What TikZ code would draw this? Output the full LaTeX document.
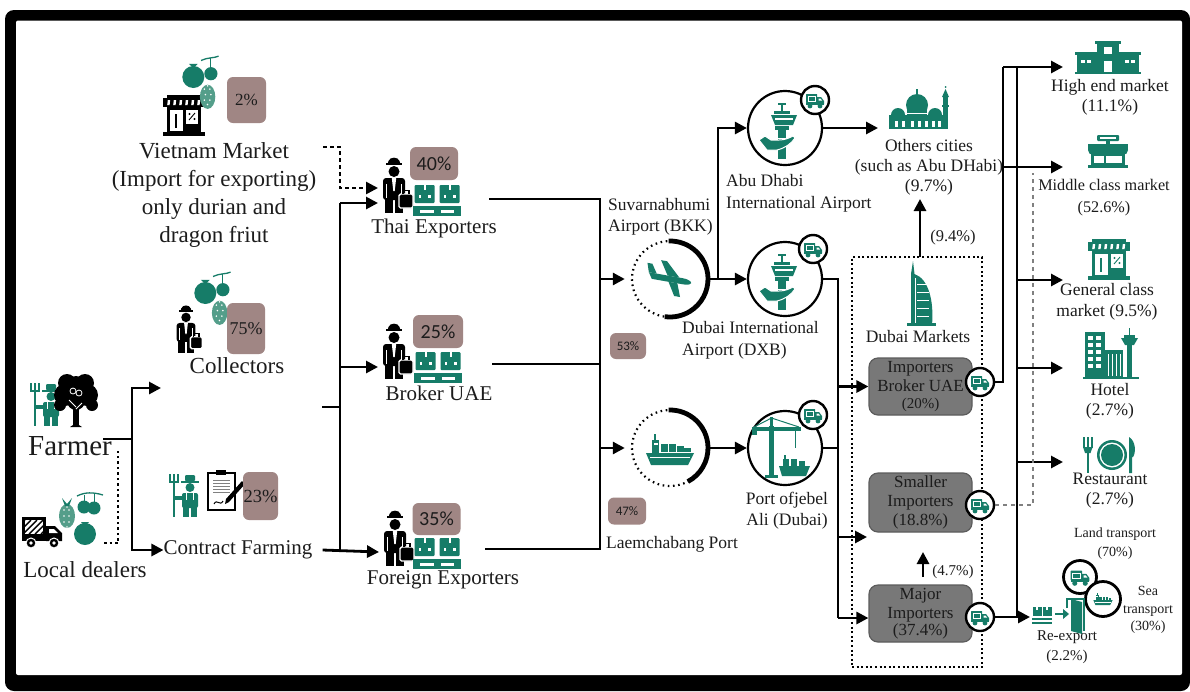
\documentclass[tikz,border=0pt]{standalone}
\usepackage{fontspec}
\setmainfont{Liberation Serif}
\newfontfamily\pctsans{Carlito}
\usetikzlibrary{arrows.meta}

\definecolor{tealic}{RGB}{22,124,104}
\definecolor{tealsoft}{RGB}{84,158,138}
\definecolor{mauve}{RGB}{160,134,132}
\definecolor{boxgrey}{RGB}{120,120,120}
\definecolor{boxedge}{RGB}{92,92,92}
\definecolor{ink}{RGB}{28,28,28}

\newcommand{\setfs}[2]{\fontsize{#1}{#2}\selectfont}

\tikzset{
  link/.style={line width=2.8pt},
  flow/.style={line width=2.8pt,-{Triangle[length=12pt,width=12pt]}},
  dashflow/.style={line width=2.6pt,dash pattern=on 4pt off 3pt,-{Triangle[length=12pt,width=12pt]}},
  dotlink/.style={line width=2.4pt,dash pattern=on 2.5pt off 3pt},
  greydash/.style={line width=1.8pt,gray,dash pattern=on 4pt off 4pt},
  pctbox/.style={fill=mauve,rounded corners=6pt,inner sep=0pt,text=ink},
  impbox/.style={fill=boxgrey,draw=boxedge,line width=1.2pt,rounded corners=9pt,minimum width=103pt,minimum height=57pt,inner sep=0pt,align=center,text=ink,font=\setfs{17}{19}},
  lbl/.style={inner sep=0pt,align=center,text=ink},
  badge/.style={circle,draw=black,line width=2.4pt,fill=white,minimum size=28pt,inner sep=0pt},
  hub/.style={circle,draw=black,line width=2.2pt,fill=white,minimum size=74pt,inner sep=0pt},
  ring/.style={circle,minimum size=78pt,inner sep=0pt},
}

% ---------- icons ----------
\tikzset{
 bizman/.pic={
  \fill (-6.5,-20.5) -- (6.5,-20.5) -- (5.5,-24) .. controls (4,-28.5) and (-4,-28.5) .. (-5.5,-24) -- cycle;
  \fill (-8,-21.8) rectangle (8,-19.8);
  \fill (0,-13.5) circle[radius=5.5pt];
  \fill[rounded corners=3pt] (-11,-7) rectangle (11,15);
  \fill (-9,13) rectangle (-1.2,28);
  \fill (1.2,13) rectangle (9,28);
  \fill[white] (-2.2,-7) -- (2.2,-7) -- (0.7,6) -- (-0.7,6) -- cycle;
  \fill[white] (-7.6,-1) rectangle (-6.7,13);
  \fill[white] (6.7,-1) rectangle (7.6,13);
  \filldraw[draw=white,line width=1.4pt,rounded corners=1.5pt] (5,9) rectangle (19,23);
  \draw[line width=1.3pt] (9,9) -- (9,5.5) -- (15,5.5) -- (15,9);
 },
 crates/.pic={
  \foreach \cx in {-12.5,12.5}{
   \fill[rounded corners=1pt] (\cx-10,-15) rectangle (\cx+10,3);
   \fill[white] (\cx-1,-15) rectangle (\cx+1,-10);
   \fill[white] (\cx-6,-5) rectangle (\cx-3.5,-2.5);
   \fill[white] (\cx+3.5,-5) rectangle (\cx+6,-2.5);
  }
  \fill (-24,6) rectangle (24,9.5);
  \fill (-24,12.5) rectangle (24,15.5);
  \foreach \lx in {-24,-3.5,17} \fill (\lx,9.5) rectangle (\lx+7,12.5);
 },
 fruits/.pic={
  \draw[line width=1.3pt] (0,-25) .. controls (6,-28) and (12,-27) .. (16,-29);
  \draw[line width=1pt] (9,-27) -- (9,-18);
  \fill (-7,-10) circle[radius=10pt];
  \fill (-11,-22) -- (-3,-22) -- (-7,-18) -- cycle;
  \fill (9,-13) circle[radius=6pt];
  \fill[tealsoft] (6,8) ellipse[x radius=7pt,y radius=11pt];
  \foreach \dx/\dy in {3/1,8/1,4/6,9/6,3/11,8/11,6/15,6/-2}
    \fill[white] (\dx,\dy) circle[radius=0.8pt];
 },
 fruitsb/.pic={
  \fill[tealsoft] (-14,-4) ellipse[x radius=8pt,y radius=12pt];
  \foreach \dx/\dy in {-17/-10,-12/-10,-17/-4,-12/-4,-17/2,-12/2,-14/7,-14/-13}
    \fill[white] (\dx,\dy) circle[radius=0.8pt];
  \fill (-19,-22) -- (-14,-16) -- (-9,-22) -- (-12,-14) -- (-16,-14) -- cycle;
  \draw[line width=1.3pt] (-4,-24) .. controls (4,-28) and (12,-28) .. (22,-25);
  \draw[line width=1pt] (3,-25) -- (3,-19);
  \draw[line width=1pt] (13,-26) -- (13,-18);
  \fill (3,-13) circle[radius=6.5pt];
  \fill (13,-12) circle[radius=6.5pt];
  \fill (4,14) circle[radius=11pt];
  \fill (0,2) -- (8,2) -- (4,6) -- cycle;
 },
 shop/.pic={
  \fill (-17,-21) rectangle (17,-18);
  \fill (-21,-18) rectangle (21,-9);
  \foreach \sx in {-15,-9,-3,3,9,15}
    \fill[white] (\sx-1.2,-16) -- (\sx+1.2,-16) -- (\sx+0.6,-11) -- (\sx-1.8,-11) -- cycle;
  \fill (-17,-9) rectangle (17,17);
  \fill[white] (-14,-6) rectangle (-1.5,15);
  \fill[white] (1.5,-6) rectangle (14,8);
  \fill (-9,-2) rectangle (-7,12);
  \draw[line width=0.9pt] (5,4) -- (11,-3);
  \fill (5.5,-2) circle[radius=1.2pt];
  \fill (10.5,3) circle[radius=1.2pt];
  \fill (-21,16) rectangle (21,20);
 },
 midshop/.pic={
  \fill[rounded corners=1pt] (-11,-16) rectangle (11,-10);
  \fill[white] (-8,-14) rectangle (8,-12);
  \fill (-2,-10) rectangle (2,-7);
  \fill (-20,-7) rectangle (20,-1);
  \foreach \sx in {-15,-5,5,15} \fill (\sx,-1) circle[radius=5pt];
  \fill (-17,-1) rectangle (17,14);
  \fill[white] (-14,5) rectangle (-4,12);
  \fill[white] (-2,5) rectangle (14,12);
  \fill (-20,14) rectangle (20,17);
 },
 highend/.pic={
  \fill (-11,-15) rectangle (11,14);
  \fill (-13,-17) rectangle (13,-14);
  \fill (-31,-4) rectangle (-11,14);
  \fill (11,-4) rectangle (31,14);
  \fill (-33,-6) rectangle (-11,-3);
  \fill (11,-6) rectangle (33,-3);
  \fill[white] (-4,-11) rectangle (4,-4);
  \fill[white] (-4,3) rectangle (4,14);
  \foreach \wx in {-27,-21,17,23} \fill[white] (\wx,2) rectangle (\wx+4,5);
  \fill (-33,14) rectangle (33,16);
 },
 hotel/.pic={
  \fill (-26,-22) rectangle (-6,24);
  \foreach \wx in {-23,-15} \foreach \wy in {-18,-11,-4,3,10} \fill[white] (\wx,\wy) rectangle (\wx+5,\wy+4);
  \fill (-6,-4) rectangle (12,24);
  \foreach \vx in {-3,1,5,9} \fill[white] (\vx,0) rectangle (\vx+1.3,22);
  \fill (16,-12) rectangle (21,24);
  \fill (10,-16) -- (27,-16) -- (23,-9) -- (14,-9) -- cycle;
  \fill (13,-19) rectangle (24,-16);
  \fill (18,-26) rectangle (19,-19);
  \fill (-28,23) rectangle (28,25);
 },
 restaurant/.pic={
  \foreach \fx in {-27,-23,-19} \fill (\fx,-18) rectangle (\fx+1.6,-7);
  \fill (-27,-8) -- (-17.4,-8) -- (-19.5,-2) -- (-25,-2) -- cycle;
  \fill (-23.5,-3) rectangle (-20.9,18);
  \fill (2,0) circle[radius=15pt];
  \fill[white] (2,0) circle[radius=12.5pt];
  \fill (2,0) circle[radius=11pt];
  \fill (19,-18) .. controls (26,-14) and (26,-2) .. (23,2) -- (22,2) -- (22,18) -- (19,18) -- cycle;
 },
 reexport/.pic={
  \foreach \cx in {-25,-15}{
   \fill (\cx-4.5,-8) rectangle (\cx+4.5,1);
   \fill[white] (\cx-0.6,-8) rectangle (\cx+0.6,-5);
  }
  \fill (-30,3) rectangle (-10,5);
  \fill (-30,7) rectangle (-10,9);
  \draw[line width=2pt] (-7,-1) -- (3,-1);
  \fill (1,-6) -- (7,-1) -- (1,4) -- cycle;
  \draw[line width=2pt] (5,-7) -- (5,-16) -- (22,-16) -- (22,16);
  \fill (9,-16) -- (20,-13) -- (20,19) -- (9,16) -- cycle;
 },
 farmer/.pic={
  \draw[line width=1.5pt] (-12,-12) -- (-12,22);
  \draw[line width=1.2pt] (-16,-21) -- (-16,-13) -- (-8,-13) -- (-8,-21);
  \draw[line width=1.2pt] (-12,-21) -- (-12,-13);
  \fill (-5,-14.5) rectangle (13,-12.5);
  \fill[rounded corners=1pt] (-1,-20) rectangle (9,-14);
  \fill (4,-7.5) circle[radius=4.5pt];
  \fill[rounded corners=2pt] (-4,-2) rectangle (12,13);
  \fill (-3,12) rectangle (3,22);
  \fill (5,12) rectangle (11,22);
  \fill (-12,1) rectangle (-3,4.5);
  \fill[white] (0,-2) rectangle (1,5);
  \fill[white] (7,-2) rectangle (8,5);
 },
 tree/.pic={
  \fill (-3,4) rectangle (3,26);
  \fill (-3,26) -- (3,26) -- (6,28) -- (-6,28) -- cycle;
  \foreach \cx/\cy/\rr in {0/-10/13,-11/-4/11,11/-4/11,-9/-16/9,9/-16/9,0/2/9,-16/6/6,16/6/6}
    \fill (\cx,\cy) circle[radius=\rr pt];
  \draw[white,line width=1pt] (0,8) -- (-7,1);
  \draw[white,line width=1pt] (0,10) -- (6,4);
  \draw[white,line width=0.8pt] (-3,-8) circle[radius=3pt];
  \draw[white,line width=0.8pt] (3,-6) circle[radius=3pt];
 },
 truck/.pic={
  \fill (-21,-15) rectangle (3,5);
  \fill[white] (-18,-12) rectangle (0,2);
  \begin{scope}
   \clip (-18,-12) rectangle (0,2);
   \foreach \k in {-32,-26,...,0} \draw[line width=1.4pt] (\k,2) -- (\k+14,-12);
  \end{scope}
  \fill (3,-6) -- (12,-6) -- (19,1) -- (19,9) -- (3,9) -- cycle;
  \fill[white] (6,-3) -- (11,-3) -- (15,1) -- (6,1) -- cycle;
  \fill (-21,5) rectangle (19,9);
  \filldraw[draw=white,line width=1pt] (-12,11) circle[radius=5pt];
  \filldraw[draw=white,line width=1pt] (11,11) circle[radius=5pt];
  \fill[white] (-12,11) circle[radius=1.8pt];
  \fill[white] (11,11) circle[radius=1.8pt];
 },
 clipboard/.pic={
  \draw[line width=2pt,fill=white] (-15,-18) rectangle (12,19);
  \fill (-7,-21) rectangle (3,-16);
  \foreach \ly in {-11,-8,-5,-2,1} \draw[line width=1pt,gray] (-10,\ly) -- (7,\ly);
  \draw[line width=1pt] (-9,13) .. controls (-6,7) and (-3,16) .. (0,10);
  \fill (19,-10) -- (22,-7) -- (6,11) -- (2,13) -- (3,8) -- cycle;
 },
 plane/.pic={
  \fill (-22,-3) -- (12,-3) .. controls (20,-3) and (24,0) .. (20,2) .. controls (18,3) and (15,3) .. (12,3) -- (-18,3) -- cycle;
  \fill (-3,-3) -- (-12,-17) -- (-6,-17) -- (9,-3) -- cycle;
  \fill (-1,3) -- (7,16) -- (13,16) -- (8,3) -- cycle;
  \fill (-22,-3) -- (-25,-12) -- (-20,-12) -- (-14,-3) -- cycle;
 },
 ship/.pic={
  \fill (-24,3) -- (24,3) -- (18,15) -- (-19,15) -- cycle;
  \fill (-18,-10) rectangle (-11,3);
  \fill (-16,-16) rectangle (-14.5,-10);
  \fill[white] (-16.5,-7) rectangle (-12.5,-5);
  \foreach \bx/\bh in {-9/9,-1/9,7/7,14/5} \fill (\bx,3-\bh) rectangle (\bx+6.5,2);
  \fill[white] (-20,7) rectangle (20,8);
 },
 tower/.pic={
  \fill (-7.8,-24) rectangle (-6.2,-17);
  \fill (-11,-25) rectangle (-3,-23.5);
  \fill (-15,-17) rectangle (1,-14);
  \fill (-18,-13) -- (8,-13) -- (4,-3) -- (-14,-3) -- cycle;
  \fill[white] (-14,-10) rectangle (4,-8);
  \fill (-14,-2) rectangle (0,2);
  \fill (-11,2) rectangle (-3,31);
  \fill[white] (-11,10) rectangle (-3,11);
  \fill[white] (-11,18) rectangle (-3,19);
  \filldraw[draw=white,line width=1pt] (-30,12) -- (-24,8) -- (-18,12) -- (-10,12) .. controls (-4,12) and (0,10) .. (4,8) -- (6,10) .. controls (2,16) and (-4,20) .. (-12,22) -- (-22,22) -- cycle;
 },
 crane/.pic={
  \fill (-16,-22) rectangle (-11,28);
  \fill (-33,-21) rectangle (16,-17.5);
  \draw[line width=1pt] (-13.5,-30) -- (-31,-21);
  \draw[line width=1pt] (-13.5,-30) -- (14,-21);
  \fill (-15,-31) rectangle (-12,-21);
  \fill (-33,-21) rectangle (-28,-13);
  \draw[line width=1pt] (10,-17.5) -- (10,0);
  \fill (-20,27) rectangle (-7,30);
  \fill (-6,18) -- (25,18) -- (21,28) -- (-3,28) -- cycle;
  \fill (-2,11) rectangle (4,18);
  \fill (-1,7) rectangle (1,11);
  \fill (6,11) rectangle (12,18);
  \fill (14,13) rectangle (20,18);
 },
 minitruck/.pic={
  \fill[rounded corners=0.5pt] (-9,-6) rectangle (2,3);
  \draw[white,line width=0.6pt] (-7,-4) rectangle (0,1);
  \fill (2,-3) -- (6,-3) -- (9,1) -- (9,4) -- (2,4) -- cycle;
  \fill[white] (3.5,-1.5) -- (5.5,-1.5) -- (7,0.5) -- (3.5,0.5) -- cycle;
  \fill (-9,3) rectangle (9,5);
  \fill (-5,6) circle[radius=2.4pt];
  \fill (5,6) circle[radius=2.4pt];
 },
 burj/.pic={
  \fill (-9,31) -- (-9,-20) -- (-7,-33) -- (-5.5,-20) .. controls (9,-15) and (14,8) .. (12,31) -- cycle;
  \foreach \yy in {-10,-2,6,14,22} \fill[white] (-3,\yy) rectangle (9,\yy+1.3);
  \fill[white] (-5,-16) rectangle (-4,31);
  \fill (-13,29) rectangle (16,32);
 },
 mosque/.pic={
  \fill (-30,4) rectangle (26,18);
  \fill (-12,-6) rectangle (8,6);
  \fill (-2,-6) circle[radius=11pt];
  \fill (-2.6,-22) rectangle (-1.4,-16);
  \fill (-21,4) circle[radius=7pt];
  \fill (16,4) circle[radius=7pt];
  \fill (24,-14) rectangle (29,18);
  \fill (23,-6) rectangle (30,-4);
  \fill (23,-14) -- (30,-14) -- (26.5,-22) -- cycle;
  \fill (26.5,-24) circle[radius=1pt];
  \foreach \ax in {-24,-17,-8,-1,6,13,19} \fill[white] (\ax,10) rectangle (\ax+3,16);
  \draw[white,line width=0.8pt] (-12,2) -- (8,2);
 },
}

\begin{document}
\begin{tikzpicture}[x=1pt,y=-1pt]
\useasboundingbox (0,0) rectangle (1190,691);
\fill[white] (0,0) rectangle (1190,691);
% outer frame
\fill[black,rounded corners=9pt] (5,10) rectangle (1190,691);
\fill[white,rounded corners=2pt] (16,20.5) rectangle (1182,675);

% ---------- growers ----------
\pic[color=tealic] at (47,404) {farmer};
\pic[color=black] at (76,399) {tree};
\node[lbl,font=\setfs{29}{32}] (farmerT) at (70,446) {Farmer};

\pic[color=black] at (43,532) {truck};
\pic[color=tealic] at (81,520) {fruitsb};
\node[lbl,font=\setfs{23}{26}] (localT) at (85,570) {Local dealers};

% ---------- first buyers ----------
\pic[color=black] at (184,116) {shop};
\pic[color=tealic,scale=1.1] at (201,88) {fruits};
\node[pctbox,minimum width=39pt,minimum height=46pt,font=\setfs{17}{20}] (p2) at (246.5,100) {2\%};
\node[lbl,font=\setfs{23}{28}] (vietT) at (214,195) {Vietnam Market\\(Import for exporting)\\only durian and\\dragon friut};

\pic[color=black,scale=0.86] at (186,329) {bizman};
\pic[color=tealic,scale=1.1] at (213,304) {fruits};
\node[pctbox,minimum width=38pt,minimum height=51pt,font=\setfs{18}{20}] (p75) at (246,328.5) {75\%};
\node[lbl,font=\setfs{23}{26}] (collT) at (237,366) {Collectors};

\pic[color=tealic] at (186,495) {farmer};
\pic[color=black] at (223,491) {clipboard};
\node[pctbox,minimum width=35pt,minimum height=48pt,font=\setfs{18.5}{20}] (p23) at (260.5,496) {23\%};
\node[lbl,font=\setfs{21}{24}] (contractT) at (238,550) {Contract Farming};

% ---------- exporters ----------
\pic[color=black] at (394,185) {bizman};
\pic[color=tealic] at (437,200) {crates};
\node[pctbox,minimum width=48pt,minimum height=33pt,font=\pctsans\setfs{20}{22}] (p40) at (434,163.5) {40\%};
\node[lbl,font=\setfs{21}{24}] (thaiT) at (434,228) {Thai Exporters};

\pic[color=black] at (394,351) {bizman};
\pic[color=tealic] at (438,367) {crates};
\node[pctbox,minimum width=50pt,minimum height=33pt,font=\pctsans\setfs{20}{22}] (p25) at (438,331.5) {25\%};
\node[lbl,font=\setfs{21}{24}] (brokerT) at (439,393) {Broker UAE};

\pic[color=black] at (395,538) {bizman};
\pic[color=tealic] at (437,553) {crates};
\node[pctbox,minimum width=48pt,minimum height=32pt,font=\pctsans\setfs{20}{22}] (p35) at (436.5,519) {35\%};
\node[lbl,font=\setfs{21}{24}] (foreignT) at (443,580) {Foreign Exporters};

% ---------- Thai gateways ----------
\node[ring] (bkk) at (670,279) {};
\draw[line width=2.2pt,dash pattern=on 1.6pt off 3.6pt] (bkk) circle[radius=38pt];
\draw[line width=4.8pt] (bkk.center) ++(92:38pt) arc[start angle=92,end angle=-98,radius=38pt];
\pic[color=tealic,rotate=-10] at (670,279) {plane};
\node[lbl,align=left,anchor=west,font=\setfs{17.5}{21}] (bkkT) at (608,217) {Suvarnabhumi\\Airport (BKK)};
\node[pctbox,minimum width=36pt,minimum height=26pt,font=\pctsans\setfs{13}{15}] (p53) at (628,346) {53\%};

\node[ring] (laem) at (670,448) {};
\draw[line width=2.2pt,dash pattern=on 1.6pt off 3.6pt] (laem) circle[radius=38pt];
\draw[line width=4.8pt] (laem.center) ++(92:38pt) arc[start angle=92,end angle=-62,radius=38pt];
\pic[color=tealic] at (670,450) {ship};
\node[pctbox,minimum width=38pt,minimum height=27pt,font=\pctsans\setfs{13}{15}] (p47) at (627,511) {47\%};
\node[lbl,anchor=west,font=\setfs{17.5}{21}] (laemT) at (606,544) {Laemchabang Port};

% ---------- UAE gateways ----------
\node[hub] (abu) at (785,128) {};
\pic[color=tealic] at (789,128) {tower};
\node[badge] (abuB) at (815,100) {};
\pic[color=tealic] at (abuB) {minitruck};
\node[lbl,align=left,anchor=west,font=\setfs{17.5}{22}] (abuT) at (726,193) {Abu Dhabi\\International Airport};

\node[hub] (dxb) at (785,279) {};
\pic[color=tealic] at (789,279) {tower};
\node[badge] (dxbB) at (813,249) {};
\pic[color=tealic] at (dxbB) {minitruck};
\node[lbl,align=left,anchor=west,font=\setfs{17.5}{22}] (dxbT) at (682,340) {Dubai International\\Airport (DXB)};

\node[hub] (port) at (785,448) {};
\pic[color=tealic] at (785,448) {crane};
\node[badge] (portB) at (813,415) {};
\pic[color=tealic] at (portB) {minitruck};
\node[lbl,font=\setfs{17.5}{21}] (portT) at (787,511) {Port ofjebel\\Ali (Dubai)};

% ---------- other cities ----------
\pic[color=tealic] at (919,111) {mosque};
\node[lbl,font=\setfs{17.5}{20}] (othersT) at (929,167) {Others cities\\(such as Abu DHabi)\\(9.7\%)};

% ---------- Dubai markets ----------
\node[draw,line width=2pt,dash pattern=on 2pt off 2.6pt,minimum width=130pt,minimum height=410pt,inner sep=0pt] (dubaibox) at (917,462) {};
\pic[color=tealic] at (920,294) {burj};
\node[lbl,font=\setfs{17.5}{20}] (dubaiT) at (918,337) {Dubai Markets};
\node[lbl,font=\setfs{16.5}{19}] (p94) at (953,238) {(9.4\%)};

\node[impbox] (imp1) at (920.5,386.5) {Importers\\Broker UAE\\[-2pt]{\setfs{15}{16}(20\%)}};
\node[impbox,minimum height=59pt] (imp2) at (920.5,502.5) {Smaller\\Importers\\(18.8\%)};
\node[impbox] (imp3) at (920.5,613.5) {Major\\Importers\\[-2pt](37.4\%)};
\node[lbl,font=\setfs{15}{17}] (p47b) at (953,572) {(4.7\%)};

\node[badge] (b1) at (980,382) {};
\pic[color=tealic] at (b1) {minitruck};
\node[badge] (b2) at (980,505) {};
\pic[color=tealic] at (b2) {minitruck};
\node[badge] (b3) at (980,617) {};
\pic[color=tealic] at (b3) {minitruck};

% ---------- final outlets ----------
\pic[color=tealic] at (1108,58) {highend};
\node[lbl,font=\setfs{17.5}{20}] (highT) at (1110,97) {High end market\\(11.1\%)};
\pic[color=tealic] at (1108,151) {midshop};
\node[lbl,font=\setfs{16.2}{22}] (midT) at (1104,198) {Middle class market\\(52.6\%)};
\pic[color=tealic] at (1109,260) {shop};
\node[lbl,font=\setfs{17.5}{21}] (genT) at (1107,302) {General class\\market (9.5\%)};
\pic[color=tealic] at (1111,354) {hotel};
\node[lbl,font=\setfs{17.5}{20}] (hotelT) at (1110,401) {Hotel\\(2.7\%)};
\pic[color=tealic] at (1110,455) {restaurant};
\node[lbl,font=\setfs{17.5}{20}] (restT) at (1110,491) {Restaurant\\(2.7\%)};

\node[lbl,font=\setfs{14}{19}] (landT) at (1115,544) {Land transport\\(70\%)};
\node[circle,draw=black,line width=2.8pt,fill=white,minimum size=33pt,inner sep=0pt] (landC) at (1080,577) {};
\pic[color=tealic,scale=1.05] at (landC) {minitruck};
\node[circle,draw=black,line width=2.8pt,fill=white,minimum size=35pt,inner sep=0pt] (seaC) at (1103,599) {};
\pic[color=tealic,scale=0.4] at (1103,599) {ship};
\node[lbl,font=\setfs{14}{17.5}] (seaT) at (1148,610) {Sea\\transport\\(30\%)};
\pic[color=tealic] at (1062,615) {reexport};
\node[lbl,font=\setfs{15}{20}] (reT) at (1067,647) {Re-export\\(2.2\%)};

% ---------- connectors ----------
% farmer to first buyers
\coordinate (farmerOut) at (103,439);
\coordinate (farmerSplit) at (132,439);
\coordinate (collIn) at (161,388);
\draw[link] (farmerOut) -- (farmerSplit);
\draw[flow] (farmerSplit) |- (collIn);
\draw[flow] (farmerSplit) |- (contractT.west);
\coordinate (dealerOut) at (104,543);
\coordinate (dealerUp) at (118,451);
\draw[dotlink] (dealerOut) -| (dealerUp);

% Vietnam re-export to Thai exporters
\coordinate (vnOut) at (323,147);
\coordinate (vnTurn) at (340,147);
\coordinate (thaiInA) at (378,188);
\draw[dashflow] (vnOut) -- (vnTurn) |- (thaiInA);

% collection trunk
\coordinate (trunkTop) at (340,203);
\coordinate (trunkBot) at (340,552);
\coordinate (thaiInB) at (378,203);
\coordinate (brokerIn) at (378,367);
\coordinate (foreignIn) at (379,552);
\coordinate (collOut) at (322,407);
\draw[link] (trunkTop) -- (trunkBot);
\draw[link] (collOut) -- (collOut -| trunkTop);
\draw[flow] (trunkTop) -- (thaiInB);
\draw[flow] (trunkTop |- brokerIn) -- (brokerIn);
\draw[flow] ([xshift=10pt]contractT.east) -- (foreignIn);

% exporters to Thai gateways
\coordinate (thaiOut) at (489,199);
\coordinate (brokerOut) at (492,364);
\coordinate (foreignOut) at (485,549);
\coordinate (gateTop) at (600,199);
\coordinate (gateBot) at (600,549);
\draw[link] (thaiOut) -- (gateTop) -- (gateBot) -- (foreignOut);
\draw[link] (brokerOut) -- (brokerOut -| gateTop);
\draw[flow,shorten >=6pt] (gateTop |- bkk.west) -- (bkk.west);
\draw[flow,shorten >=6pt] (gateTop |- laem.west) -- (laem.west);

% Thai gateways to UAE gateways
\coordinate (bkkSplit) at (718,279);
\draw[link] ([xshift=-1pt]bkk.east) -- (bkkSplit);
\draw[flow] (bkkSplit) |- (abu.west);
\draw[flow] (bkkSplit) -- (dxb.west);
\draw[flow] ([xshift=-1pt]laem.east) -- (port.west);
\draw[flow] (abu.east) -- (878,128) coordinate (othersIn);

% UAE gateways to importers
\coordinate (dubTrunk) at (838,279);
\coordinate (dubBot) at (838,618);
\coordinate (smallIn) at (867,537);
\draw[link] (dxb.east) -- (dubTrunk) -- (dubBot);
\draw[link] (port.east) -- (dubTrunk |- port.east);
\draw[flow] (dubTrunk |- imp1.west) -- (imp1.west);
\draw[flow] (dubTrunk |- smallIn) -- (smallIn);
\draw[flow] (dubBot) -- (imp3.west |- dubBot);

% flows inside the Dubai markets
\coordinate (boxTop) at (920,257);
\coordinate (othersBot) at (920,199);
\draw[flow] (boxTop) -- (othersBot);
\coordinate (majorUp) at (923,577);
\coordinate (smallerDown) at (923,552);
\draw[flow] (majorUp) -- (smallerDown);

% distribution to outlets
\coordinate (railA) at (1003,67);
\coordinate (railB) at (1017,67);
\coordinate (railBot) at (1017,617);
\coordinate (outX) at (1063,0);
\draw[link] (b1.east) -| (railA);
\draw[flow] (railA) -- (railA -| outX);
\draw[link] (railB) -- (railBot);
\draw[flow] (othersT.east) -- (othersT.east -| outX);
\draw[flow] (railB |- 0,280) -- (outX |- 0,280);
\draw[flow] (railB |- 0,368) -- (outX |- 0,368);
\draw[flow] (railB |- 0,462) -- (outX |- 0,462);
\draw[flow] (b3.east) -- (1030,617) coordinate (reIn);
\draw[greydash] (b2.east) -| (1033,173);
\end{tikzpicture}
\end{document}
